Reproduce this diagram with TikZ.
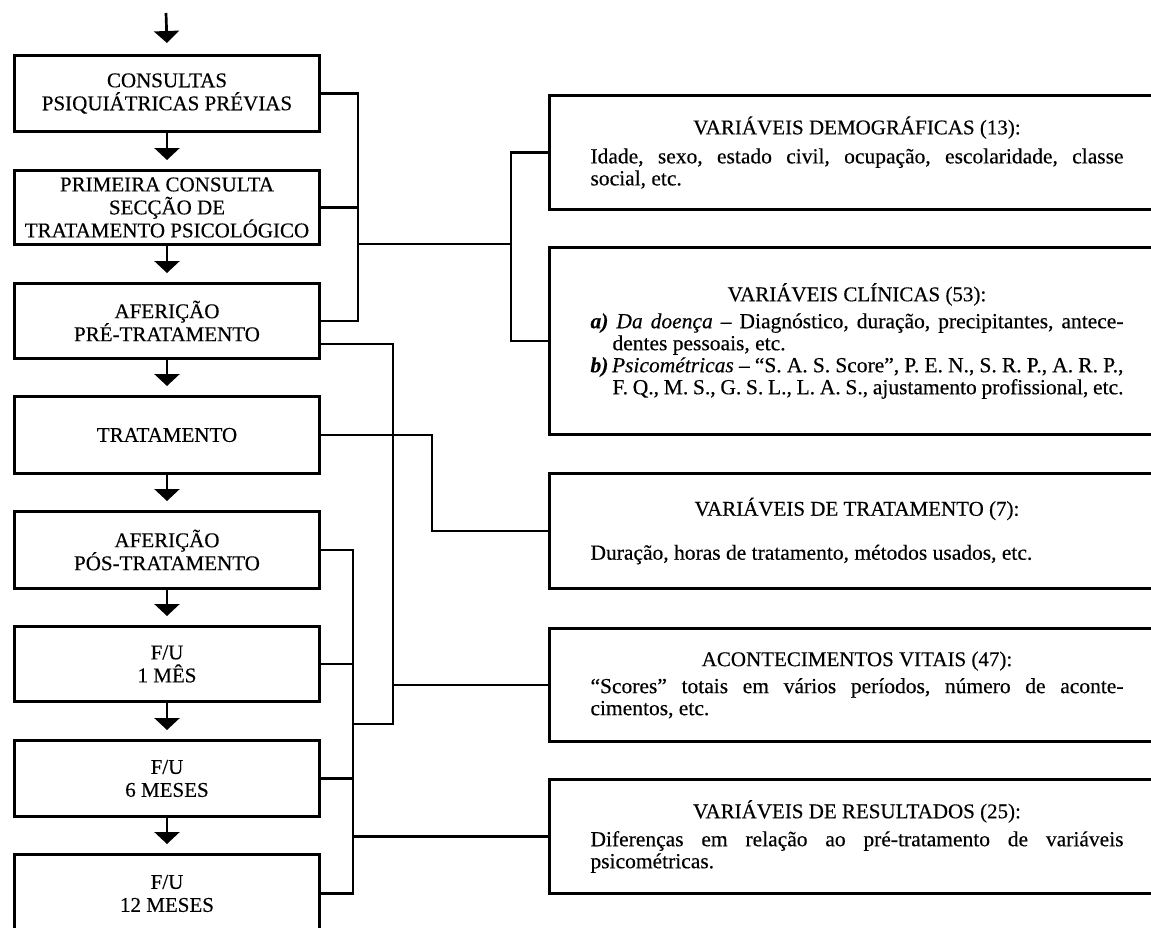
\documentclass[tikz,border=0pt]{standalone}
\usepackage{fontspec}
\setmainfont{Liberation Serif}[FakeBold=0.35]
\usetikzlibrary{arrows.meta}
\frenchspacing
\newcommand{\myhead}[2]{{\centering\fontsize{21}{22}\selectfont #1\par}\vspace{#2}}
\begin{document}
\begin{tikzpicture}[x=1pt,y=-1pt,
  lbox/.style={draw,line width=3pt,anchor=north west,minimum width=305pt,align=center,inner sep=1pt,font=\fontsize{21}{23}\selectfont},
  rbox/.style={draw,line width=3pt,anchor=north west,text width=533pt,inner xsep=41pt,inner ysep=0pt,align=justify,font=\fontsize{21.5}{22}\selectfont},
  conn/.style={line width=2.7pt},
  arr/.style={line width=2.7pt,-{Triangle[width=25pt,length=12pt]}}]
\useasboundingbox (0,0) rectangle (1151,927);
\clip (0,0) rectangle (1151,927);

% left column
\node[lbox,minimum height=76pt] (b1) at (13,54) {CONSULTAS\\PSIQUIÁTRICAS PRÉVIAS};
\node[lbox,minimum height=74pt] (b2) at (13,169) {PRIMEIRA CONSULTA\\SECÇÃO DE\\TRATAMENTO PSICOLÓGICO};
\node[lbox,minimum height=75pt] (b3) at (13,282) {AFERIÇÃO\\PRÉ-TRATAMENTO};
\node[lbox,minimum height=77pt] (b4) at (13,395) {TRATAMENTO};
\node[lbox,minimum height=77pt] (b5) at (13,510) {AFERIÇÃO\\PÓS-TRATAMENTO};
\node[lbox,minimum height=75pt] (b6) at (13,625) {F/U\\1 MÊS};
\node[lbox,minimum height=76pt] (b7) at (13,739) {F/U\\6 MESES};
\node[lbox,minimum height=78pt] (b8) at (13,853) {F/U\\12 MESES};

% right column
\node[rbox,minimum height=114pt] (demo) at (548,94) {\parindent=0pt
  \myhead{VARIÁVEIS DEMOGRÁFICAS (13):}{7pt}
  Idade, sexo, estado civil, ocupação, escolaridade, classe\linebreak social, etc.\par};
\node[rbox,minimum height=187pt] (clin) at (548,246) {\parindent=0pt
  \myhead{VARIÁVEIS CLÍNICAS (53):}{5pt}
  \hangindent=22pt\hangafter=1 \textit{\textbf{a)} Da doença} -- Diagnóstico, duração, precipitantes, antece-\linebreak dentes pessoais, etc.\par
  \hangindent=22pt\hangafter=1 \textit{\textbf{b)}\,Psicométricas} -- “S. A. S. Score”, P. E. N., S. R. P., A. R. P.,\linebreak F. Q., M. S., G. S. L., L. A. S., ajustamento profissional, etc.\par};
\node[rbox,minimum height=115pt] (trat) at (548,472) {\parindent=0pt
  \myhead{VARIÁVEIS DE TRATAMENTO (7):}{22pt}
  Duração, horas de tratamento, métodos usados, etc.\par};
\node[rbox,minimum height=113pt] (acont) at (548,627) {\parindent=0pt
  \myhead{ACONTECIMENTOS VITAIS (47):}{5pt}
  “Scores” totais em vários períodos, número de aconte-\linebreak cimentos, etc.\par};
\node[rbox,minimum height=114pt] (result) at (548,778) {\parindent=0pt
  \myhead{VARIÁVEIS DE RESULTADOS (25):}{6pt}
  Diferenças em relação ao pré-tratamento de variáveis\linebreak psicométricas.\par};

% vertical arrows
\coordinate (start) at (166,13);
\draw[arr] (start) -- ([yshift=11pt]b1.north);
\draw[arr] (b1.south) -- ([yshift=9pt]b2.north);
\draw[arr] (b2.south) -- ([yshift=9pt]b3.north);
\draw[arr] (b3.south) -- ([yshift=9pt]b4.north);
\draw[arr] (b4.south) -- ([yshift=9pt]b5.north);
\draw[arr] (b5.south) -- ([yshift=9pt]b6.north);
\draw[arr] (b6.south) -- ([yshift=9pt]b7.north);
\draw[arr] (b7.south) -- ([yshift=9pt]b8.north);

% bus positions
\coordinate (busA) at (358,0);
\coordinate (busB) at (511,0);
\coordinate (bus1) at (353,0);
\coordinate (bus2) at (393,0);
\coordinate (bus3) at (432,0);
\coordinate (jA) at (358,244);
\coordinate (p3) at ([yshift=-23pt]b3.east);
\coordinate (j2) at (393,724);

% demographic / clinical
\draw[conn] (b1.east) -- (b1.east -| busA) -- (b3.east -| busA) -- (b3.east);
\draw[conn] (b2.east) -- (b2.east -| busA);
\draw[conn] (jA) -- (jA -| busB);
\draw[conn] (demo.west) -- (demo.west -| busB) -- (clin.west -| busB) -- (clin.west);

% treatment
\draw[conn] (b4.east) -| (trat.west -| bus3) -- (trat.west);

% life events
\draw[conn] (p3) -| (j2) -- (j2 -| bus1);
\draw[conn] (acont.west) -- (acont.west -| bus2);

% results
\draw[conn] (b5.east) -- (b5.east -| bus1) -- (b8.east -| bus1) -- (b8.east);
\draw[conn] (b6.east) -- (b6.east -| bus1);
\draw[conn] (b7.east) -- (b7.east -| bus1);
\draw[conn] (result.west) -- (result.west -| bus1);
\end{tikzpicture}
\end{document}
